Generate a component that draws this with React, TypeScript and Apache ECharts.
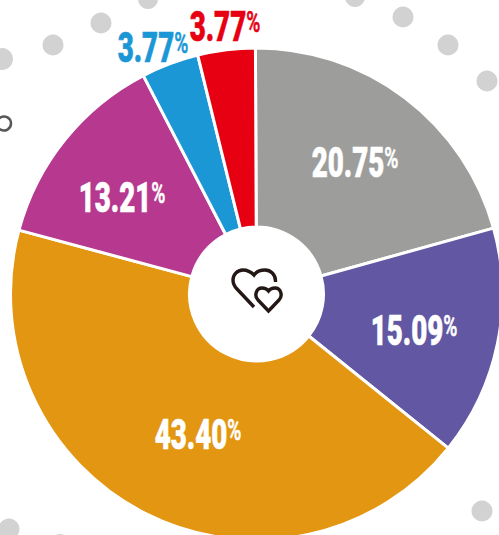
import React, { useEffect, useRef } from "react";
import * as echarts from "echarts";

const categories = ["A", "B", "C", "D", "E", "F"];
const values = [20.75, 15.09, 43.4, 13.21, 3.77, 3.77];
const colors = ["#9d9e9c", "#6157a3", "#e39612", "#b6398f", "#1c97d6", "#e60012"];
const labelColors = ["#ffffff", "#ffffff", "#ffffff", "#ffffff", "#1c97d6", "#e60012"];
const labelPositions = [
  [355, 163],
  [414, 331],
  [198, 435],
  [122, 198],
  [153, 48],
  [225, 27],
];
const dots = [
  [148, -1, 10],
  [101, 23, 10.5],
  [53, 45, 10.5],
  [2, 59, 11],
  [355, -3, 10],
  [403, 17, 10.5],
  [448, 45, 10.5],
  [487, 81, 10.5],
  [482, 511, 10.5],
  [9, 529, 10.5],
  [60, 544, 10],
];

const HEART =
  "M275.5 282 C276 274 270 270 265 270 C260 270 256 272 254 275 C251 272 247 270 243 270 C237 270 233 275 233 280 C233 284 235 287 237 289 L254 307 " +
  "M268.5 311 L258 300 C254 296 256 288 262 288 C265 288 267 289 268.5 291 C270 289 272 288 275 288 C281 288 283 296 279 300 Z";
echarts.graphic.registerShape("hearts", echarts.graphic.extendPath(HEART, {}));

export default function App() {
  const ref = useRef<HTMLDivElement>(null);
  useEffect(() => {
    document.body.style.margin = "0";
    const chart = echarts.init(ref.current!, undefined, { renderer: "svg" });
    const texts = values.map((v, i) => ({
      type: "text",
      x: labelPositions[i][0],
      y: labelPositions[i][1],
      scaleX: 0.66,
      z: 10,
      style: {
        text: `{v|${v.toFixed(2)}}{p|%}`,
        align: "center",
        verticalAlign: "middle",
        fill: labelColors[i],
        stroke: labelColors[i],
        lineWidth: 0.6,
        rich: {
          v: {
            fontFamily: "Roboto",
            fontWeight: 900,
            fontSize: 42,
            lineHeight: 40,
            fill: labelColors[i],
            color: labelColors[i],
          },
          p: {
            fontFamily: "Roboto",
            fontWeight: 500,
            fontSize: 29,
            lineHeight: 40,
            verticalAlign: "top",
            fill: labelColors[i],
            color: labelColors[i],
          },
        },
      },
    }));
    chart.setOption({
      animation: false,
      backgroundColor: "#ffffff",
      series: [
        {
          type: "pie",
          center: [256.5, 294],
          radius: [67, 246],
          startAngle: 90.25,
          clockwise: true,
          silent: true,
          label: { show: false },
          labelLine: { show: false },
          itemStyle: { borderColor: "#ffffff", borderWidth: 3 },
          data: values.map((value, i) => ({
            name: categories[i],
            value,
            itemStyle: { color: colors[i] },
          })),
        },
      ],
      graphic: [
        ...dots.map(([cx, cy, r]) => ({
          type: "circle",
          shape: { cx, cy, r },
          style: { fill: "#d2d2d2" },
          z: 1,
        })),
        {
          type: "circle",
          shape: { cx: 4, cy: 123.5, r: 7 },
          style: { fill: "none", stroke: "#595757", lineWidth: 2.5 },
          z: 1,
        },
        {
          type: "hearts",
          style: { fill: "none", stroke: "#231815", lineWidth: 3.4 },
          z: 10,
        },
        ...texts,
      ],
    });
    return () => chart.dispose();
  }, []);
  return <div ref={ref} style={{ width: 499, height: 535 }} />;
}
